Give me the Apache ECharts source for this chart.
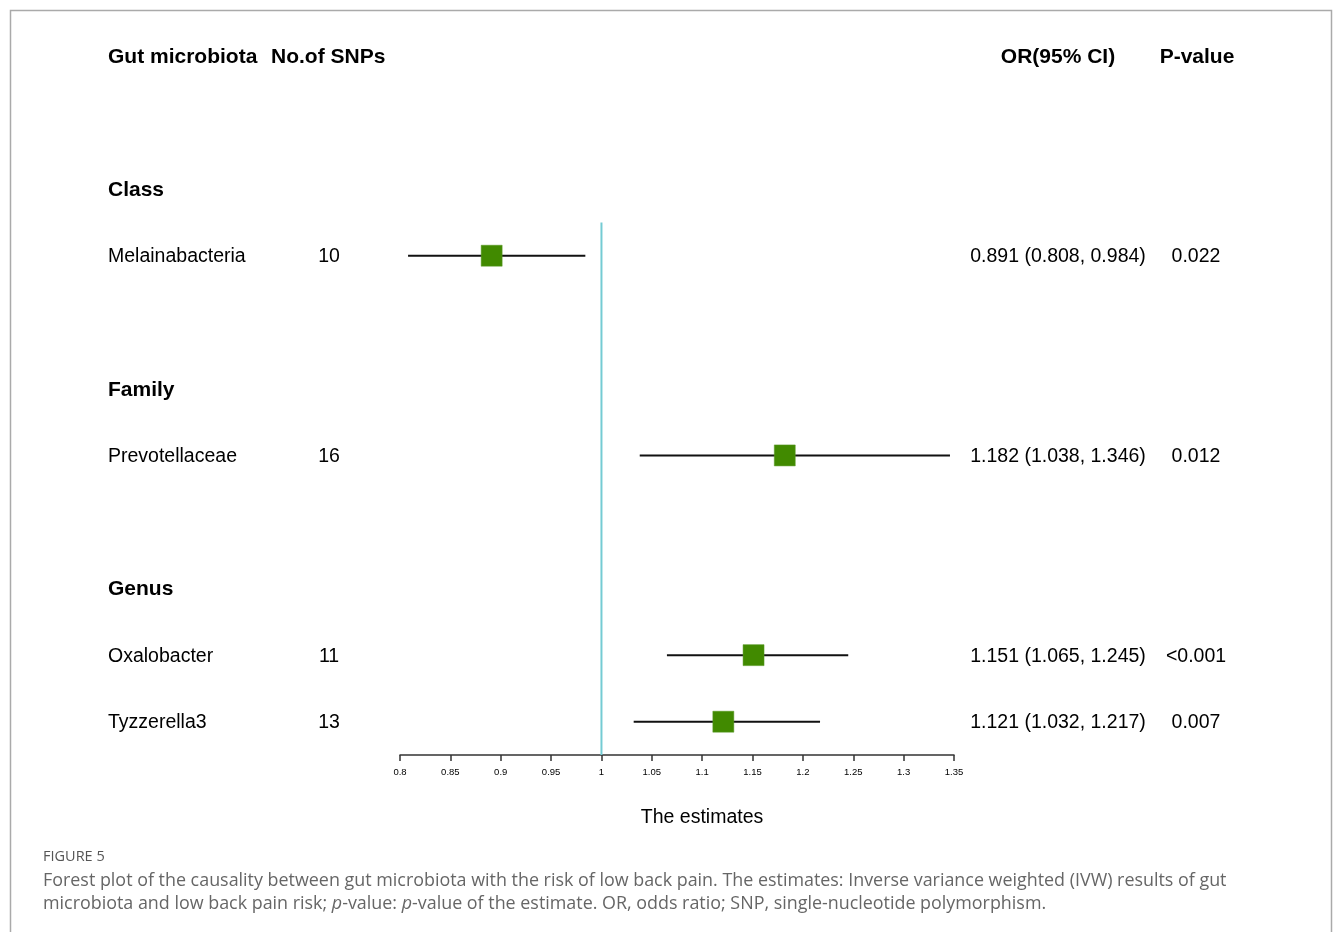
<!DOCTYPE html>
<html>
<head>
<meta charset="utf-8">
<script src="https://cdn.jsdelivr.net/npm/echarts@6/dist/echarts.min.js"></script>
<style>
html,body{margin:0;padding:0;background:#fff;}
#chart{width:1333px;height:932px;}
</style>
</head>
<body>
<div id="chart"></div>
<script>
// ---- data ----
const groupNames = ['Class', 'Family', 'Genus'];
const groupRows = [2, 5, 8];
const taxa = ['Melainabacteria', 'Prevotellaceae', 'Oxalobacter', 'Tyzzerella3'];
const taxaRows = [3, 6, 9, 10];
const nSnps = [10, 16, 11, 13];
const orValues = [0.891, 1.182, 1.151, 1.121];
const ciLower = [0.808, 1.038, 1.065, 1.032];
const ciUpper = [0.984, 1.346, 1.245, 1.217];
const orText = ['0.891 (0.808, 0.984)', '1.182 (1.038, 1.346)', '1.151 (1.065, 1.245)', '1.121 (1.032, 1.217)'];
const pValues = ['0.022', '0.012', '<0.001', '0.007'];
const headers = ['Gut microbiota', 'No.of SNPs', 'OR(95% CI)', 'P-value'];
const xTicks = [0.8, 0.85, 0.9, 0.95, 1, 1.05, 1.1, 1.15, 1.2, 1.25, 1.3, 1.35];
const refValue = 1;

const FONT = '"Liberation Sans", Arial, sans-serif';
const chart = echarts.init(document.getElementById('chart'));

function textEl(x, y, text, opts) {
  return {
    type: 'text',
    style: Object.assign({
      x: x, y: y + 1, text: text, font: '19.5px ' + FONT, fill: '#000',
      textAlign: 'left', textVerticalAlign: 'middle'
    }, opts || {})
  };
}

const option = {
  backgroundColor: '#fff',
  animation: false,
  grid: { left: 400, right: 379, top: 56, height: 699, containLabel: false },
  xAxis: {
    type: 'value', min: 0.8, max: 1.35, interval: 0.05,
    axisLine: { show: true, onZero: false, lineStyle: { color: '#333', width: 1.5 } },
    axisTick: { show: true, length: 6, lineStyle: { color: '#333', width: 1.5 } },
    axisLabel: {
      margin: 12, fontSize: 9.5, color: '#000', fontFamily: FONT,
      formatter: function (v) { return String(parseFloat(v.toFixed(2))); }
    },
    splitLine: { show: false }
  },
  yAxis: {
    type: 'value', min: 0, max: 10.5, inverse: true, show: false,
    splitLine: { show: false }
  },
  series: [
    {
      type: 'custom',
      data: [[refValue, 2.5, 10.5]],
      renderItem: function (params, api) {
        const a = api.coord([api.value(0), api.value(1)]);
        const b = api.coord([api.value(0), api.value(2)]);
        return { type: 'line', shape: { x1: a[0], y1: a[1], x2: b[0], y2: b[1] },
          style: { stroke: '#74cbd3', lineWidth: 2 } };
      },
      z: 1
    },
    {
      type: 'custom',
      data: taxa.map((t, i) => [ciLower[i], ciUpper[i], taxaRows[i]]),
      renderItem: function (params, api) {
        const a = api.coord([api.value(0), api.value(2)]);
        const b = api.coord([api.value(1), api.value(2)]);
        return { type: 'line', shape: { x1: a[0], y1: a[1], x2: b[0], y2: b[1] },
          style: { stroke: '#111', lineWidth: 2 } };
      },
      z: 2
    },
    {
      type: 'scatter',
      symbol: 'rect',
      symbolSize: 21,
      itemStyle: { color: '#418a00', borderColor: '#5c9a2a', borderWidth: 0.5, opacity: 1 },
      data: orValues.map((v, i) => [v, taxaRows[i]]),
      z: 3
    },
    {
      type: 'custom',
      data: [0],
      renderItem: function (params, api) {
        const children = [];
        const hy = api.coord([1, 0])[1];
        const bold = 'bold 21px ' + FONT;
        children.push(textEl(108, hy, headers[0], { font: bold }));
        children.push(textEl(271, hy, headers[1], { font: bold }));
        children.push(textEl(1058, hy, headers[2], { font: bold, textAlign: 'center' }));
        children.push(textEl(1197, hy, headers[3], { font: bold, textAlign: 'center' }));
        groupNames.forEach((g, i) => {
          const y = api.coord([1, groupRows[i]])[1];
          children.push(textEl(108, y, g, { font: bold }));
        });
        taxa.forEach((t, i) => {
          const y = api.coord([1, taxaRows[i]])[1];
          children.push(textEl(108, y, t));
          children.push(textEl(329, y, String(nSnps[i]), { textAlign: 'center' }));
          children.push(textEl(1058, y, orText[i], { textAlign: 'center' }));
          children.push(textEl(1196, y, pValues[i], { textAlign: 'center' }));
        });
        return { type: 'group', children: children };
      },
      z: 5
    }
  ],
  graphic: [
    {
      type: 'polyline', silent: true,
      shape: { points: [[10.5, 940], [10.5, 10.5], [1331.5, 10.5], [1331.5, 940]] },
      style: { stroke: '#aaa', lineWidth: 1.5, fill: null }
    },
    {
      type: 'text', silent: true,
      style: { x: 702, y: 818, text: 'The estimates', font: '19.5px ' + FONT, fill: '#000',
        textAlign: 'center', textVerticalAlign: 'middle' }
    },
    {
      type: 'text', left: 43, top: 849,
      style: { text: 'FIGURE 5', font: '14.5px "Open Sans", sans-serif', fill: '#555' }
    },
    {
      type: 'text', left: 43, top: 869,
      style: {
        rich: { i: { font: 'italic 17.9px "Open Sans", sans-serif', fill: '#666', lineHeight: 23 } },
        text: 'Forest plot of the causality between gut microbiota with the risk of low back pain. The estimates: Inverse variance weighted (IVW) results of gut\nmicrobiota and low back pain risk; {i|p}-value: {i|p}-value of the estimate. OR, odds ratio; SNP, single-nucleotide polymorphism.',
        font: '17.9px "Open Sans", sans-serif', fill: '#666', lineHeight: 23
      }
    }
  ]
};
chart.setOption(option);
</script>
</body>
</html>
